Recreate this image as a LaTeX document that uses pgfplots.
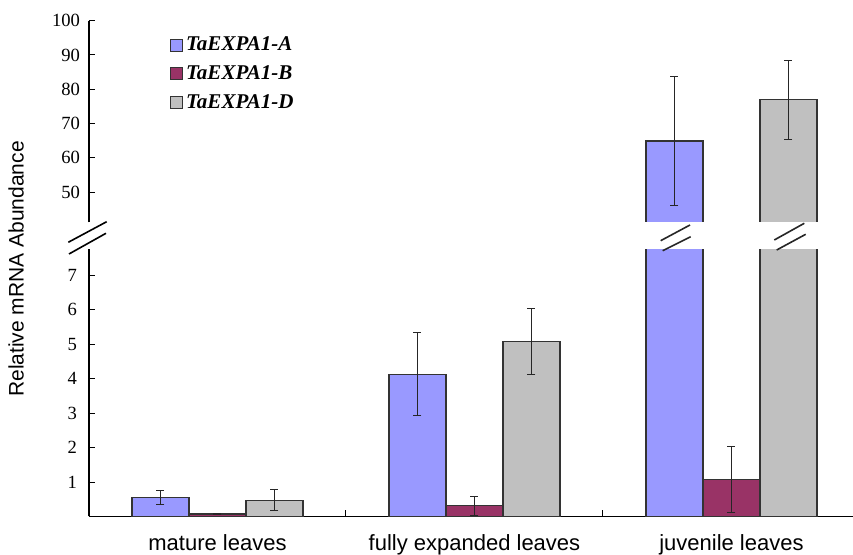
\documentclass[border=0pt]{standalone}
\usepackage{fontspec}
\setmainfont{Liberation Serif}
\newfontfamily\arial{Liberation Sans}
\usepackage{pgfplots}
\pgfplotsset{compat=1.18}
\usepackage{pgfplotstable}
\usetikzlibrary{calc}
\definecolor{cA}{HTML}{9999FF}
\definecolor{cB}{HTML}{993366}
\definecolor{cD}{HTML}{C0C0C0}
\definecolor{edge}{HTML}{333333}

\pgfplotstableread{
x y e
0 0.55 0.21
1 4.13 1.20
2 64.9 18.8
}\tA
\pgfplotstableread{
x y e
0 0.07 0.02
1 0.31 0.27
2 1.08 0.95
}\tB
\pgfplotstableread{
x y e
0 0.47 0.30
1 5.09 0.96
2 77.0 11.5
}\tD

\begin{document}
\begin{tikzpicture}
\pgfplotsset{
  common/.style={
    scale only axis, width=382pt, xmin=-0.5, xmax=2.473,
    ybar=0pt, bar width=28.5pt,
    tick align=inside, major tick length=3pt,
    axis line style={black, line width=0.6pt},
    every tick/.style={black, line width=0.5pt},
    y tick label style={font=\fontsize{9.3}{11}\selectfont},
    /pgf/number format/assume math mode=true,
    error bars/y dir=both, error bars/y explicit,
    error bars/error bar style={black!85, line width=0.6pt},
    error bars/error mark options={black!85, line width=0.5pt, mark size=2pt, rotate=90},
  }
}
\begin{axis}[common, name=lower,
  height=133.75pt, ymin=0, ymax=7.765,
  axis x line*=bottom, axis y line*=left,
  ytick={1,2,...,7},
  y tick label style={xshift=-2.5pt},
  xtick={0,1,2},
  xticklabels={mature leaves, fully expanded leaves, juvenile leaves},
  x tick label style={font=\arial\fontsize{11}{13}\selectfont, yshift=-5.6pt},
  major x tick style={draw=none},
  minor xtick={0.5,1.5}, minor tick length=3pt,
  legend style={at={(0.098,1.822)}, anchor=north west, draw=none, fill=none,
    font=\bfseries\itshape\fontsize{10.5}{12}\selectfont, row sep=3pt,
    nodes={inner sep=1.5pt}},
  legend cell align=left,
  legend image code/.code={\draw[#1, draw=edge, line width=0.4pt] (0pt,-3pt) rectangle (6pt,3pt);},
]
\addplot[fill=cA, draw=edge, line width=0.6pt] table[x=x, y=y, y error=e] {\tA};
\addplot[fill=cB, draw=edge, line width=0.6pt] table[x=x, y=y, y error=e] {\tB};
\addplot[fill=cD, draw=edge, line width=0.6pt] table[x=x, y=y, y error=e] {\tD};
\legend{TaEXPA1-A, TaEXPA1-B, TaEXPA1-D}
\coordinate (LSW) at (rel axis cs:0,0);
\end{axis}
\begin{axis}[common, at={($(LSW)+(0pt,147pt)$)}, anchor=south west,
  height=100.9pt, ymin=41.17, ymax=100,
  axis x line=none, axis y line*=left,
  ytick={50,60,...,100},
  y tick label style={xshift=-1pt},
  xtick=\empty,
  restrict x to domain=1.5:2.5,
]
\addplot[fill=cA, draw=edge, line width=0.6pt, bar shift=-28.5pt] table[x=x, y=y, y error=e] {\tA};
\addplot[fill=cD, draw=edge, line width=0.6pt, bar shift=28.5pt] table[x=x, y=y, y error=e] {\tD};
\end{axis}
\begin{scope}[shift={(LSW)}, x=1pt, y=1pt]
% white gap of the broken bars
\fill[white] (276,134.1) rectangle (366,147.45);
% axis break marks
\draw[black, line width=0.8pt] (-10.35,137.1) -- (8.85,147.4);
\draw[black, line width=0.8pt] (-10,131.25) -- (8.5,141.6);
% bar break marks
\draw[black!85, line width=0.8pt] (285.85,137.9) -- (300.5,145.75);
\draw[black!85, line width=0.8pt] (286.85,132.9) -- (300.85,139.9);
\draw[black!85, line width=0.8pt] (342.65,138.25) -- (357.65,146.6);
\draw[black!85, line width=0.8pt] (343.85,133.25) -- (358.35,141.1);
\node[rotate=90, font=\arial\fontsize{10.5}{12}\selectfont] at (-36.5,123.75) {Relative mRNA Abundance};
\end{scope}
\pgfresetboundingbox
\useasboundingbox ($(LSW)+(-44.5pt,-19.25pt)$) rectangle ++(426.5pt,277.5pt);
\end{tikzpicture}
\end{document}
